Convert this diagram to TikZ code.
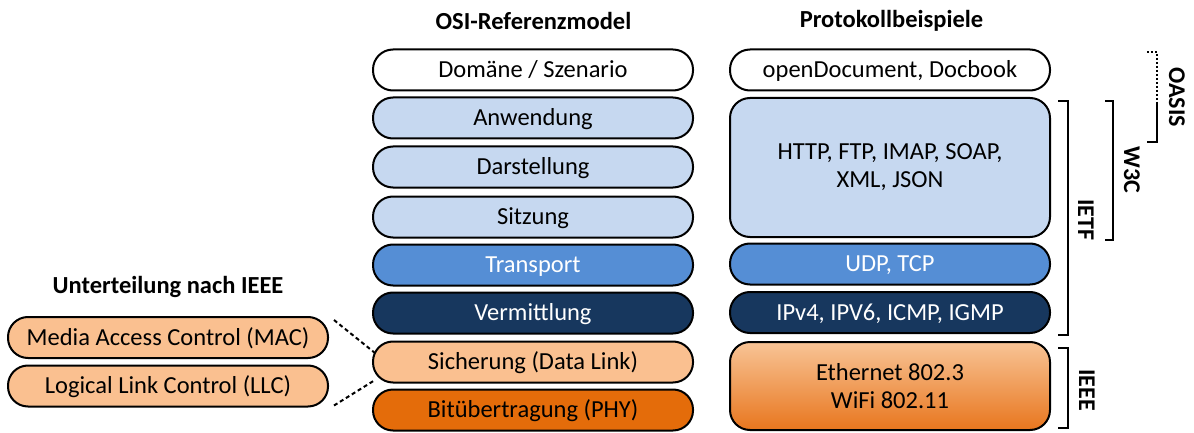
\documentclass[tikz,border=0pt]{standalone}
\usepackage{fontspec}
\setmainfont{Carlito}
\usetikzlibrary{calc}
\definecolor{lightblue}{RGB}{198,216,240}
\definecolor{midblue}{RGB}{85,142,213}
\definecolor{navy}{RGB}{23,55,94}
\definecolor{peach}{RGB}{250,192,144}
\definecolor{deeporange}{RGB}{228,108,10}
\definecolor{gradtop}{RGB}{248,196,150}
\definecolor{gradbot}{RGB}{232,118,30}
\tikzset{
  layer/.style={draw=black, line width=2pt, rounded corners=20pt,
    minimum width=320pt, minimum height=41pt, align=center,
    inner sep=0pt, font=\fontsize{24.5}{28}\selectfont},
  single/.style={layer, text height=15.5pt, text depth=0pt},
  heading/.style={font=\fontsize{24.5}{29}\selectfont\bfseries},
  brlabel/.style={font=\fontsize{24}{28}\selectfont\bfseries, rotate=-90},
  bracket/.style={line width=2pt},
  conn/.style={line width=2pt, dash pattern=on 4pt off 3pt}
}
\begin{document}
\begin{tikzpicture}[x=1pt,y=-1pt]
\useasboundingbox (0,0) rectangle (1194,433);

% headings
\node[heading] (hosi) at (533.5,21) {OSI-Referenzmodel};
\node[heading] (hprot) at (891.5,21) {Protokollbeispiele};
\node[heading] (hieee) at (168,287) {Unterteilung nach IEEE};

% OSI layers
\node[single, fill=white] (dom) at (533,70) {Domäne / Szenario};
\node[single, fill=lightblue] (anw) at (533,118) {Anwendung};
\node[single, fill=lightblue] (dar) at (533,167) {Darstellung};
\node[single, fill=lightblue] (sitz) at (533,217) {Sitzung};
\node[single, fill=midblue, text=white] (trans) at (533,265) {Transport};
\node[single, fill=navy, text=white] (verm) at (533,313) {Vermittlung};
\node[single, fill=peach] (sich) at (533,362) {Sicherung (Data Link)};
\node[single, fill=deeporange] (bit) at (533,410) {Bitübertragung (PHY)};

% protocol examples
\node[single, fill=white] (odoc) at (890,70) {openDocument, Docbook};
\node[layer, fill=lightblue, minimum height=139pt] (app) at (890,167.5)
  {\raisebox{-2pt}{HTTP, FTP, IMAP, SOAP,}\\\raisebox{-2pt}{XML, JSON}};
\node[single, fill=midblue, text=white] (udp) at (890,264) {UDP, TCP};
\node[single, fill=navy, text=white] (ip) at (890,312.5) {IPv4, IPV6, ICMP, IGMP};
\node[layer, top color=gradtop, bottom color=gradbot, minimum height=88pt] (eth) at (890,386)
  {\raisebox{-2pt}{Ethernet 802.3}\\\raisebox{-2pt}{WiFi 802.11}};

% IEEE sublayers
\node[single, fill=peach] (mac) at (168,337.5) {Media Access Control (MAC)};
\node[single, fill=peach] (llc) at (168,386) {Logical Link Control (LLC)};

\draw[conn] ($(mac.north east)+(5,4)$) -- ($(sich.west)+(3,-9)$);
\draw[conn] ($(llc.south east)+(5,-2)$) -- ($(sich.west)+(3,18)$);

% organisation brackets
\draw[bracket] (1058,101) -- (1068,101) -- (1068,335) -- (1058,335);
\node[brlabel] (ietf) at (1086,220) {IETF};
\draw[bracket] (1105,101) -- (1113,101) -- (1113,240) -- (1105,240);
\node[brlabel] (w3c) at (1132,170) {W3C};
\draw[bracket, dash pattern=on 2pt off 2pt] (1147,52) -- (1157,52) -- (1157,102);
\draw[bracket] (1157,102) -- (1157,142) -- (1147,142);
\node[brlabel] (oasis) at (1177,97) {OASIS};
\draw[bracket] (1058,348) -- (1068,348) -- (1068,428) -- (1058,428);
\node[brlabel] (ieee) at (1087,390) {IEEE};
\end{tikzpicture}
\end{document}
